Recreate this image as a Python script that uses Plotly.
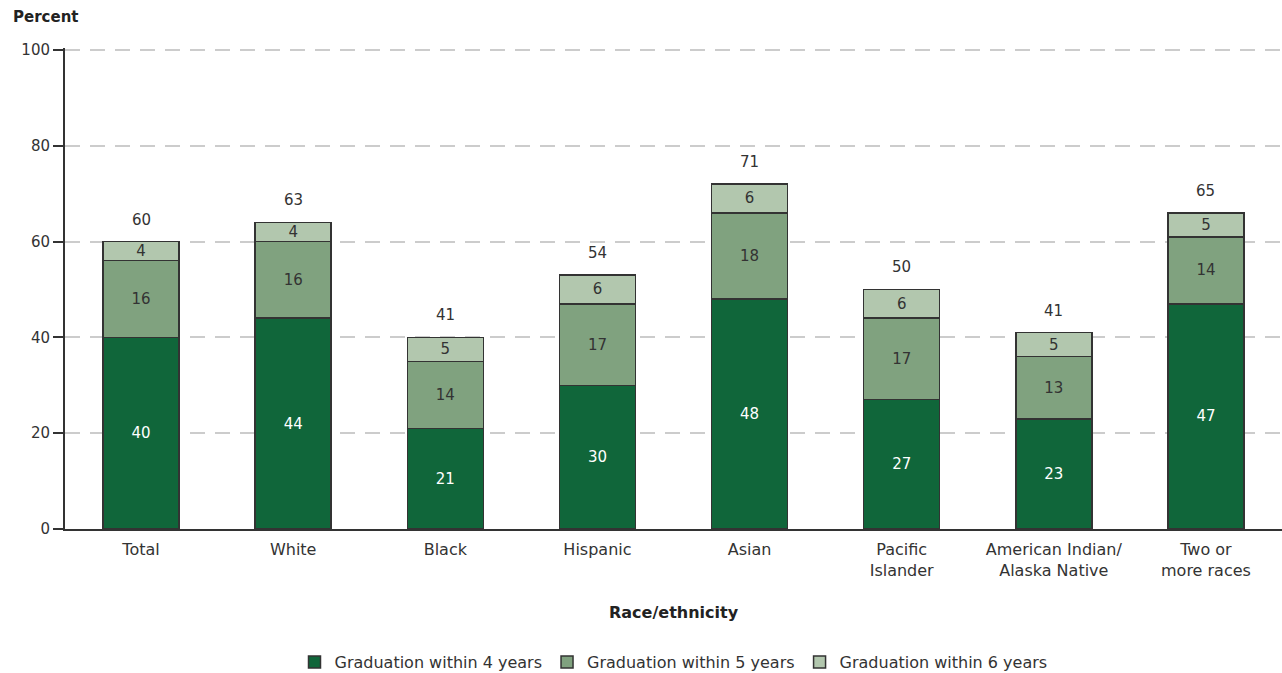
import plotly.graph_objects as go

categories = ["Total", "White", "Black", "Hispanic", "Asian", "Pacific<br>Islander",
              "American Indian/<br>Alaska Native", "Two or<br>more races"]
within4 = [40, 44, 21, 30, 48, 27, 23, 47]
within5 = [16, 16, 14, 17, 18, 17, 13, 14]
within6 = [4, 4, 5, 6, 6, 6, 5, 5]
totals = [60, 63, 41, 54, 71, 50, 41, 65]
y_ticks = [0, 20, 40, 60, 80, 100]

FONT = "DejaVu Sans, sans-serif"
outline = dict(color="#333333", width=1.5)

fig = go.Figure()
series = [
    ("Graduation within 4 years", within4, "#10663A", "white"),
    ("Graduation within 5 years", within5, "#80A27F", "#333333"),
    ("Graduation within 6 years", within6, "#B2C7AE", "#333333"),
]
for name, vals, color, tcolor in series:
    fig.add_trace(go.Bar(
        x=categories, y=vals, name=name,
        marker=dict(color=color, line=outline),
        text=[str(v) for v in vals], textposition="inside",
        insidetextanchor="middle", textangle=0,
        textfont=dict(color=tcolor, size=15, family=FONT),
        width=0.5,
    ))

stack_tops = [a + b + c for a, b, c in zip(within4, within5, within6)]
for cat, top, t in zip(categories, stack_tops, totals):
    fig.add_annotation(x=cat, y=top, text=str(t), showarrow=False,
                       yanchor="bottom", yshift=11,
                       font=dict(size=15, color="#333333", family=FONT))

fig.add_annotation(xref="paper", yref="paper", x=-0.044, y=1.042,
                   xanchor="left", yanchor="bottom", text="<b>Percent</b>",
                   showarrow=False, font=dict(size=15, color="#222222", family=FONT))

fig.add_annotation(xref="paper", yref="paper", x=0.5, y=-0.1726,
                   xanchor="center", yanchor="middle", text="<b>Race/ethnicity</b>",
                   showarrow=False, font=dict(size=16, color="#222222", family=FONT))

fig.update_layout(
    barmode="stack",
    width=1282, height=673,
    margin=dict(l=65, r=0, t=48, b=144, autoexpand=False),
    plot_bgcolor="white", paper_bgcolor="white",
    font=dict(family=FONT, size=15, color="#333333"),
    uniformtext=dict(mode="show", minsize=15),
    legend=dict(orientation="h", x=0.5, xanchor="center", y=-0.2765, yanchor="middle",
                font=dict(size=16, family=FONT, color="#333333"),
                traceorder="normal", itemwidth=30),
    xaxis=dict(
        automargin=False,
        showline=True, linecolor="#333333", linewidth=2,
        ticks="outside", ticklen=5, tickcolor="rgba(0,0,0,0)",
        tickfont=dict(size=16, family=FONT, color="#333333"),
        range=[-0.5, 7.5],
    ),
    yaxis=dict(
        automargin=False,
        range=[0, 100.4], tickvals=y_ticks, ticktext=[str(v) for v in y_ticks],
        showline=True, linecolor="#333333", linewidth=2,
        ticks="outside", ticklen=10, tickcolor="#333333", tickwidth=2,
        showgrid=True, gridcolor="#CCCCCC", griddash="15px,10px", gridwidth=1.5,
        zeroline=False,
        tickfont=dict(size=15, family=FONT, color="#333333"),
    ),
)

fig.write_html("out.html")
